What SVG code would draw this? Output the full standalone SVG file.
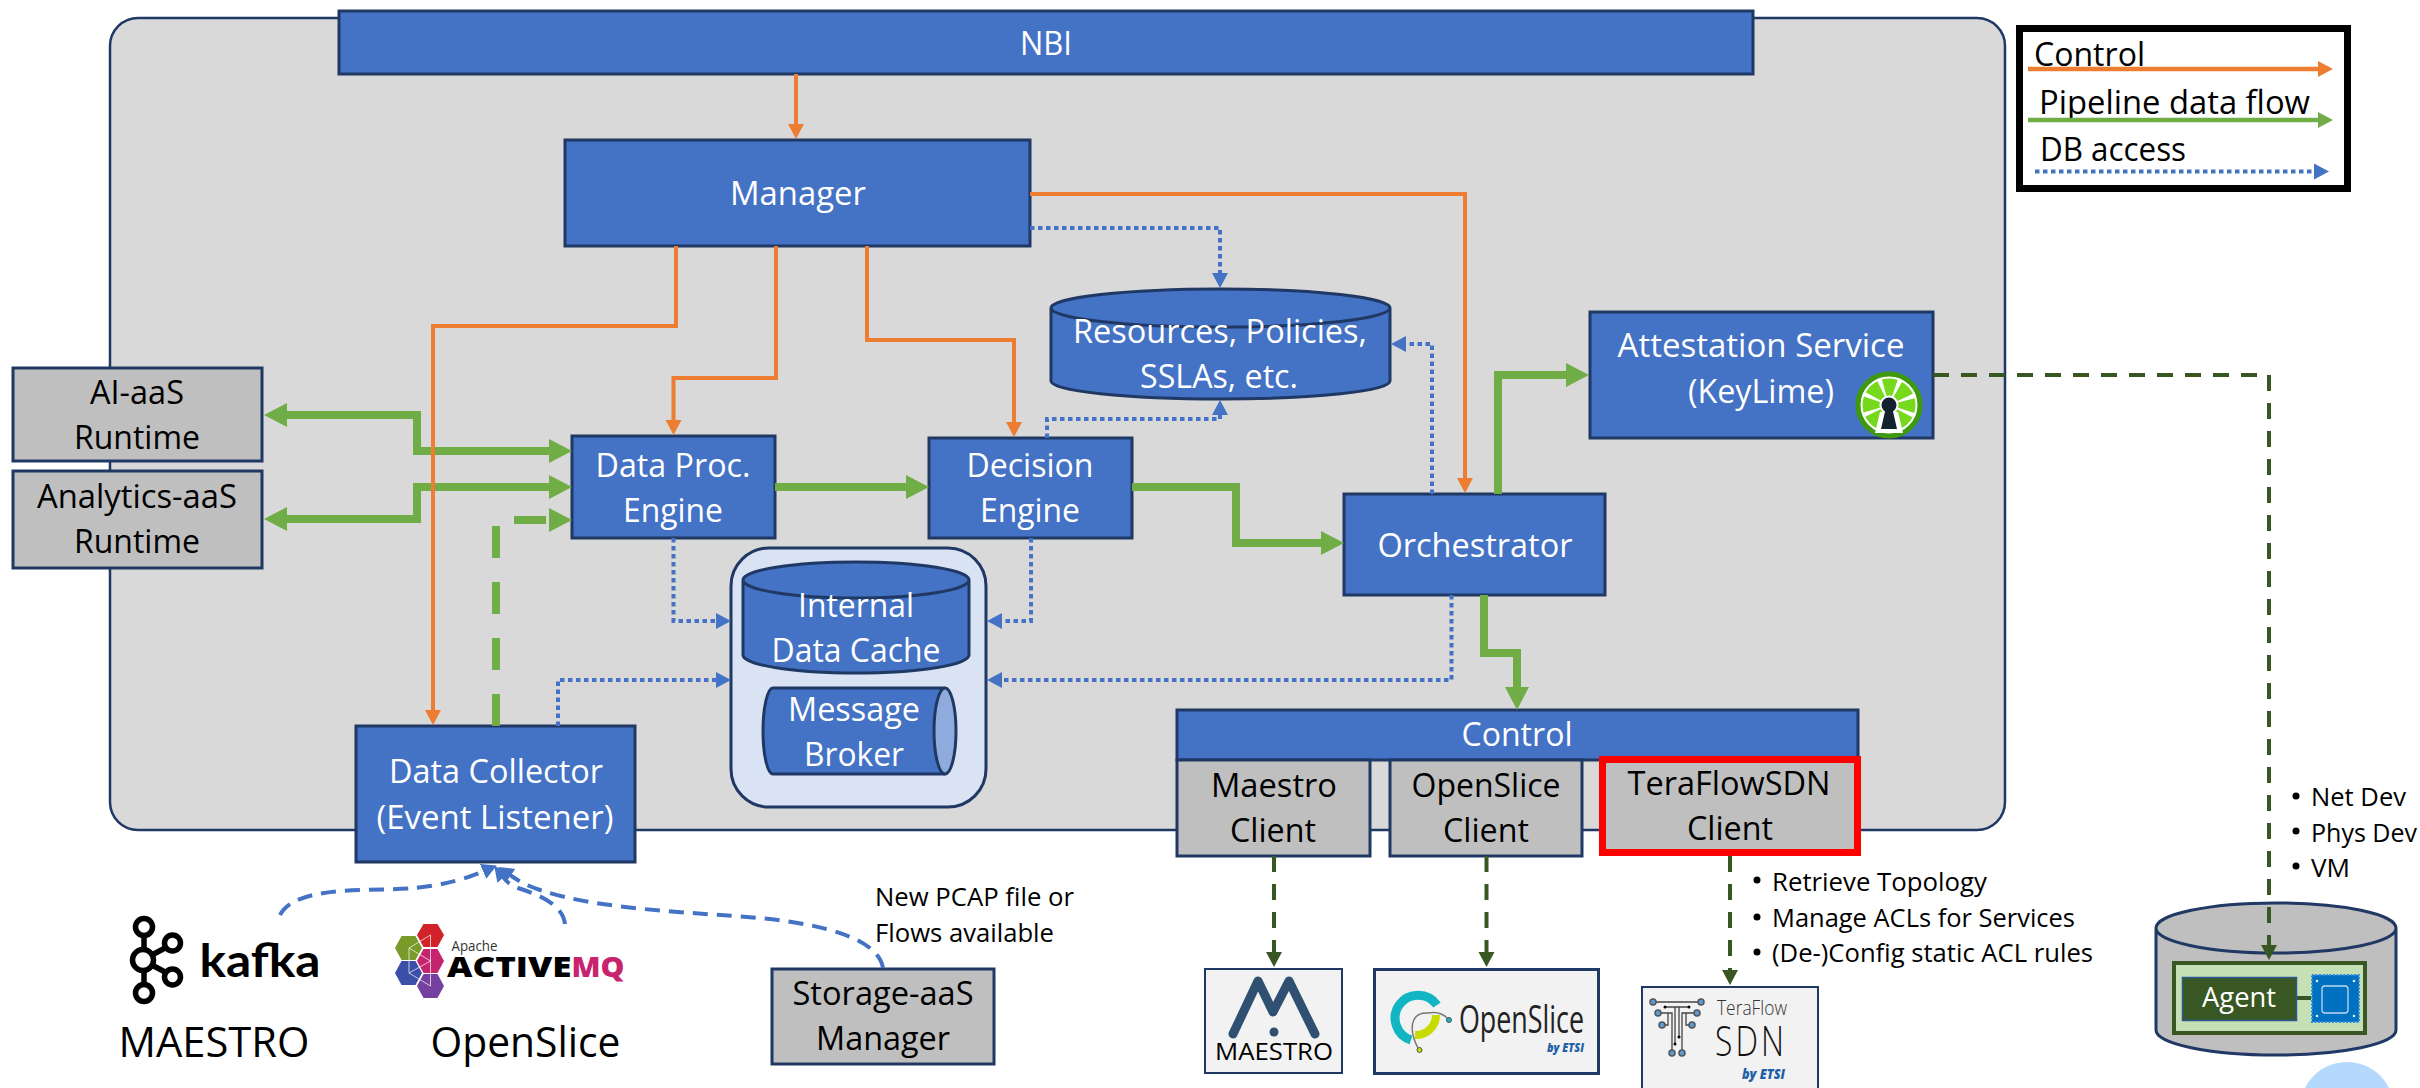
<svg xmlns="http://www.w3.org/2000/svg" width="2420" height="1088" viewBox="0 0 2420 1088">
<style>
text{font-family:"Open Sans","Noto Sans","DejaVu Sans",sans-serif}
.w{fill:#fff;font-size:33px;text-anchor:middle}
.k{fill:#000;font-size:33px;text-anchor:middle}
.b{fill:#000;font-size:26px}
.box{fill:#4472C4;stroke:#1F3864;stroke-width:3}
.gray{fill:#BFBFBF;stroke:#1F3864;stroke-width:3}
.ctl{fill:none;stroke:#ED7D31;stroke-width:4}
.pipe{fill:none;stroke:#70AD47;stroke-width:8}
.db{fill:none;stroke:#4472C4;stroke-width:4;stroke-dasharray:4.5 3.5}
.att{fill:none;stroke:#385723;stroke-width:4;stroke-dasharray:16 12}
.src{fill:none;stroke:#4472C4;stroke-width:4;stroke-dasharray:15 9}
.logo{fill:#F2F2F2;stroke:#1F3864;stroke-width:2}
.dotn{fill:#5B9BD5;stroke:#555;stroke-width:1.5}
</style>
<defs>
<marker id="mO" markerUnits="userSpaceOnUse" markerWidth="16" markerHeight="18" refX="1" refY="9" orient="auto-start-reverse"><path d="M0 1L15 9L0 17Z" fill="#ED7D31"/></marker>
<marker id="mG" markerUnits="userSpaceOnUse" markerWidth="24" markerHeight="26" refX="1" refY="13" orient="auto-start-reverse"><path d="M0 1L23 13L0 25Z" fill="#70AD47"/></marker>
<marker id="mGs" markerUnits="userSpaceOnUse" markerWidth="16" markerHeight="18" refX="1" refY="9" orient="auto-start-reverse"><path d="M0 1L15 9L0 17Z" fill="#70AD47"/></marker>
<marker id="mB" markerUnits="userSpaceOnUse" markerWidth="16" markerHeight="18" refX="1" refY="9" orient="auto-start-reverse"><path d="M0 1L15 9L0 17Z" fill="#4472C4"/></marker>
<marker id="mD" markerUnits="userSpaceOnUse" markerWidth="16" markerHeight="18" refX="1" refY="9" orient="auto-start-reverse"><path d="M0 1L15 9L0 17Z" fill="#385723"/></marker>
</defs>

<rect id="panel" x="110" y="18" width="1895" height="812" rx="28" fill="#D9D9D9" stroke="#1F3864" stroke-width="2.5"/>

<g id="nbi"><rect class="box" x="339" y="11" width="1414" height="63"/><text class="w" x="1046" y="55" textLength="52" lengthAdjust="spacingAndGlyphs">NBI</text></g>
<g id="manager"><rect class="box" x="565" y="140" width="465" height="106"/><text class="w" x="798" y="205" textLength="136" lengthAdjust="spacingAndGlyphs">Manager</text></g>
<g id="resources"><path class="box" d="M1051 308V381A169.500 18 0 0 0 1390 381V308A169.500 19 0 0 0 1051 308A169.500 19 0 0 0 1390 308"/><text class="w" x="1220" y="343" textLength="294" lengthAdjust="spacingAndGlyphs">Resources, Policies,</text><text class="w" x="1219" y="388" textLength="158" lengthAdjust="spacingAndGlyphs">SSLAs, etc.</text></g>
<g id="attestation"><rect class="box" x="1590" y="312" width="343" height="126"/><text class="w" x="1761" y="357" textLength="287" lengthAdjust="spacingAndGlyphs">Attestation Service</text><text class="w" x="1761" y="403" textLength="146" lengthAdjust="spacingAndGlyphs">(KeyLime)</text>
<circle cx="1889" cy="405" r="31" fill="#fff" stroke="#3E9A0C" stroke-width="5"/><circle cx="1889" cy="405" r="18" fill="none" stroke="#76D91C" stroke-width="17" stroke-dasharray="11 3.137" stroke-dashoffset="5.5"/><path d="M1880 412H1898L1903 433H1875Z" fill="#fff"/><circle cx="1889" cy="405" r="7.500" fill="#12232F"/><path d="M1886 407H1892L1897 429H1881Z" fill="#12232F"/></g>
<g id="ai-aas"><rect class="gray" x="13" y="368" width="249" height="93"/><text class="k" x="137" y="404" textLength="94" lengthAdjust="spacingAndGlyphs">AI-aaS</text><text class="k" x="137" y="449" textLength="126" lengthAdjust="spacingAndGlyphs">Runtime</text></g>
<g id="analytics-aas"><rect class="gray" x="13" y="471" width="249" height="97"/><text class="k" x="137" y="508" textLength="200" lengthAdjust="spacingAndGlyphs">Analytics-aaS</text><text class="k" x="137" y="553" textLength="126" lengthAdjust="spacingAndGlyphs">Runtime</text></g>
<g id="data-proc"><rect class="box" x="572" y="436" width="203" height="102"/><text class="w" x="673" y="477" textLength="155" lengthAdjust="spacingAndGlyphs">Data Proc.</text><text class="w" x="673" y="522" textLength="100" lengthAdjust="spacingAndGlyphs">Engine</text></g>
<g id="decision"><rect class="box" x="929" y="438" width="203" height="100"/><text class="w" x="1030" y="477" textLength="127" lengthAdjust="spacingAndGlyphs">Decision</text><text class="w" x="1030" y="522" textLength="100" lengthAdjust="spacingAndGlyphs">Engine</text></g>
<g id="orchestrator"><rect class="box" x="1344" y="494" width="261" height="101"/><text class="w" x="1475" y="557" textLength="195" lengthAdjust="spacingAndGlyphs">Orchestrator</text></g>
<g id="data-store"><rect x="731" y="548" width="255" height="259" rx="38" fill="#DAE3F3" stroke="#1F3864" stroke-width="3"/>
<path class="box" d="M743 580V655A113 18 0 0 0 969 655V580A113 18 0 0 0 743 580A113 18 0 0 0 969 580"/><text class="w" x="856" y="617" textLength="116" lengthAdjust="spacingAndGlyphs">Internal</text><text class="w" x="856" y="662" textLength="169" lengthAdjust="spacingAndGlyphs">Data Cache</text>
<path class="box" d="M945 688H773A10 43 0 0 0 773 774H945"/><ellipse cx="945" cy="731" rx="11" ry="43" fill="#8FAADC" stroke="#1F3864" stroke-width="3"/><text class="w" x="854" y="721" textLength="132" lengthAdjust="spacingAndGlyphs">Message</text><text class="w" x="854" y="766" textLength="100" lengthAdjust="spacingAndGlyphs">Broker</text></g>
<g id="data-collector"><rect class="box" x="356" y="726" width="279" height="136"/><text class="w" x="496" y="783" textLength="214" lengthAdjust="spacingAndGlyphs">Data Collector</text><text class="w" x="495" y="829" textLength="237" lengthAdjust="spacingAndGlyphs">(Event Listener)</text></g>
<g id="control"><rect class="box" x="1177" y="710" width="681" height="50"/><text class="w" x="1517" y="746" textLength="111" lengthAdjust="spacingAndGlyphs">Control</text></g>
<g id="maestro-client"><rect class="gray" x="1177" y="760" width="193" height="96"/><text class="k" x="1274" y="797" textLength="126" lengthAdjust="spacingAndGlyphs">Maestro</text><text class="k" x="1273" y="842" textLength="86" lengthAdjust="spacingAndGlyphs">Client</text></g>
<g id="openslice-client"><rect class="gray" x="1390" y="760" width="192" height="96"/><text class="k" x="1486" y="797" textLength="149" lengthAdjust="spacingAndGlyphs">OpenSlice</text><text class="k" x="1486" y="842" textLength="86" lengthAdjust="spacingAndGlyphs">Client</text></g>
<g id="teraflow-client"><rect x="1602.500" y="759.500" width="255" height="93" fill="#BFBFBF" stroke="#F00" stroke-width="7"/><text class="k" x="1729" y="795" textLength="203" lengthAdjust="spacingAndGlyphs">TeraFlowSDN</text><text class="k" x="1730" y="840" textLength="86" lengthAdjust="spacingAndGlyphs">Client</text></g>
<g id="storage-manager"><rect class="gray" x="772" y="969" width="222" height="95"/><text class="k" x="883" y="1005" textLength="181" lengthAdjust="spacingAndGlyphs">Storage-aaS</text><text class="k" x="883" y="1050" textLength="134" lengthAdjust="spacingAndGlyphs">Manager</text></g>

<g id="kafka"><g fill="none" stroke="#000" stroke-width="5.500"><circle cx="144" cy="927" r="8.500"/><circle cx="143" cy="960" r="10.500"/><circle cx="144" cy="993" r="8.500"/><circle cx="172.500" cy="943" r="8"/><circle cx="172.500" cy="977" r="8"/><path d="M144 936V950M144 970V984M152 955L165 948M152 965L165 972"/></g><text x="199.500" y="977" font-size="46" font-weight="700" style="font-family:Lato,'Open Sans',sans-serif" textLength="121" lengthAdjust="spacingAndGlyphs">kafka</text><text x="118.500" y="1057" font-size="42" textLength="191" lengthAdjust="spacingAndGlyphs">MAESTRO</text></g>
<g id="activemq"><path d="M417 935L423.500 924H437.500L444 935L437.500 947H423.500Z" fill="#D2232A"/><path d="M395 948L401.500 936H415.500L422 948L415.500 960H401.500Z" fill="#7A9A2A"/><path d="M417 961L423.500 949H437.500L444 961L437.500 973H423.500Z" fill="#C5246F"/><path d="M395 973L401.500 961H415.500L422 973L415.500 985H401.500Z" fill="#3C4FA8"/><path d="M417 986L423.500 974H437.500L444 986L437.500 998H423.500Z" fill="#7540A0"/><path d="M430.500 935V986L409 973V948L430.500 935M409 948L430.500 961L409 973" fill="none" stroke="#fff" stroke-opacity=".7" stroke-width="1"/><text x="451.500" y="951" font-size="15" fill="#333" textLength="46" lengthAdjust="spacingAndGlyphs">Apache</text><text x="447" y="977" font-size="29" font-weight="800" textLength="124.500" lengthAdjust="spacingAndGlyphs">ACTIVE</text><text x="571.500" y="977" font-size="29" font-weight="800" fill="#C8246E" textLength="53" lengthAdjust="spacingAndGlyphs">MQ</text><text x="430.500" y="1057" font-size="42" textLength="190" lengthAdjust="spacingAndGlyphs">OpenSlice</text></g>
<g id="pcap-note"><text class="b" x="875" y="906" textLength="199" lengthAdjust="spacingAndGlyphs">New PCAP file or</text><text class="b" x="875" y="942" textLength="179" lengthAdjust="spacingAndGlyphs">Flows available</text></g>

<g id="maestro-logo"><rect class="logo" x="1205" y="969" width="137" height="104"/><path d="M1233 1034L1258 981L1273 1012L1289 981L1315 1034" fill="none" stroke="#2F5070" stroke-width="9" stroke-linejoin="round" stroke-linecap="round"/><circle cx="1274" cy="1032" r="4.500" fill="#2F5070"/><text x="1215" y="1060" font-size="24" textLength="118" lengthAdjust="spacingAndGlyphs">MAESTRO</text></g>
<g id="openslice-logo"><rect class="logo" style="stroke-width:3" x="1374.500" y="969.500" width="224" height="104"/><path d="M1437 1005A23 23 0 1 0 1411 1040" fill="none" stroke="#12B5C4" stroke-width="9"/><path d="M1436 1015A20 20 0 0 1 1415 1035" fill="none" stroke="#C8DB00" stroke-width="8"/><path d="M1419 1050C1408 1030 1410 1012 1428 1013C1438 1011 1445 1015 1449 1020" fill="none" stroke="#777" stroke-width="1.500"/><circle cx="1449" cy="1020" r="2.500" fill="#12B5C4" stroke="#555"/><circle cx="1419.500" cy="1050" r="2.500" fill="#C8DB00" stroke="#555"/><text x="1459" y="1033" font-size="39" fill="#222" textLength="125" lengthAdjust="spacingAndGlyphs">OpenSlice</text><text x="1547" y="1052" font-size="13" font-weight="800" font-style="italic" fill="#1F5FA8" textLength="37" lengthAdjust="spacingAndGlyphs">by ETSI</text></g>
<g id="teraflow-logo"><rect class="logo" x="1642" y="987" width="176" height="110"/><path d="M1653 1002H1701M1665 1007H1689M1672 1053V1013H1658M1682 1053V1013H1697M1662 1025H1668V1013M1692 1025H1686V1013M1675 1007V1044M1679 1007V1037" fill="none" stroke="#444" stroke-width="1.300"/><g class="dotn"><circle cx="1653" cy="1002" r="3"/><circle cx="1701" cy="1002" r="3"/><circle cx="1658" cy="1013" r="3"/><circle cx="1697" cy="1013" r="3"/><circle cx="1662" cy="1025" r="3"/><circle cx="1692" cy="1025" r="3"/><circle cx="1672" cy="1053" r="3"/><circle cx="1682" cy="1053" r="3"/></g><circle cx="1665" cy="1007" r="1.500"/><circle cx="1689" cy="1007" r="1.500"/><circle cx="1675" cy="1044" r="1.500"/><circle cx="1679" cy="1037" r="1.500"/><text x="1717" y="1015" font-size="20" font-weight="300" fill="#333" textLength="70" lengthAdjust="spacingAndGlyphs">TeraFlow</text><text x="1715" y="1056" font-size="42" font-weight="300" fill="#111" letter-spacing="4" textLength="72" lengthAdjust="spacingAndGlyphs">SDN</text><text x="1742" y="1079" font-size="14" font-weight="800" font-style="italic" fill="#1F5FA8" textLength="43" lengthAdjust="spacingAndGlyphs">by ETSI</text></g>
<g id="acl-note"><circle cx="1757" cy="880" r="3.500"/><circle cx="1757" cy="917" r="3.500"/><circle cx="1757" cy="952" r="3.500"/><text class="b" x="1772" y="891" textLength="215" lengthAdjust="spacingAndGlyphs">Retrieve Topology</text><text class="b" x="1772" y="927" textLength="303" lengthAdjust="spacingAndGlyphs">Manage ACLs for Services</text><text class="b" x="1772" y="962" textLength="321" lengthAdjust="spacingAndGlyphs">(De-)Config static ACL rules</text></g>
<g id="dev-note"><circle cx="2296" cy="796" r="3.500"/><circle cx="2296" cy="831" r="3.500"/><circle cx="2296" cy="866" r="3.500"/><text class="b" x="2311" y="806" textLength="95" lengthAdjust="spacingAndGlyphs">Net Dev</text><text class="b" x="2311" y="842" textLength="106" lengthAdjust="spacingAndGlyphs">Phys Dev</text><text class="b" x="2311" y="877" textLength="39" lengthAdjust="spacingAndGlyphs">VM</text></g>
<g id="agent-host"><path class="gray" d="M2156 928V1030A120 25 0 0 0 2396 1030V928A120 25 0 0 0 2156 928A120 25 0 0 0 2396 928"/><rect x="2174" y="963" width="191" height="70" fill="#C5E0B4" stroke="#385723" stroke-width="4"/><path d="M2297 998H2311" stroke="#385723" stroke-width="4"/><rect x="2182.500" y="977.500" width="114" height="43" fill="#385723" stroke="#2F5597" stroke-width="1.500"/><text x="2239" y="1007" font-size="27" fill="#fff" text-anchor="middle" textLength="74" lengthAdjust="spacingAndGlyphs">Agent</text><rect x="2312" y="975" width="47" height="47" fill="#0070C0" stroke="#2E8BE0" stroke-width="2" stroke-dasharray="2 1.500"/><rect x="2322" y="986" width="26" height="27" rx="3" fill="none" stroke="#BDD7EE" stroke-width="1.300"/><g fill="#DDEBF7"><circle cx="2317" cy="981" r="1.300"/><circle cx="2354" cy="981" r="1.300"/><circle cx="2317" cy="1016" r="1.300"/><circle cx="2354" cy="1016" r="1.300"/></g></g>
<circle id="blue-blob" cx="2347" cy="1109" r="47" fill="#B4D9FC"/>

<g id="legend"><rect x="2019.500" y="28.500" width="328" height="160" fill="#fff" stroke="#000" stroke-width="7"/><text x="2034" y="66" font-size="33" textLength="111" lengthAdjust="spacingAndGlyphs">Control</text><text x="2039" y="114" font-size="33" textLength="271" lengthAdjust="spacingAndGlyphs">Pipeline data flow</text><text x="2040" y="161" font-size="33" textLength="146" lengthAdjust="spacingAndGlyphs">DB access</text><path class="ctl" style="stroke-width:4.500" d="M2028 69H2319" marker-end="url(#mO)"/><path class="pipe" style="stroke-width:4.500" d="M2028 120H2319" marker-end="url(#mGs)"/><path class="db" d="M2035 171.500H2315" marker-end="url(#mB)"/></g>

<g id="connectors">
<path class="pipe" d="M286 415H417V451H550" marker-start="url(#mG)" marker-end="url(#mG)"/>
<path class="pipe" d="M286 519H417V487H550" marker-start="url(#mG)" marker-end="url(#mG)"/>
<path class="pipe" style="stroke-dasharray:32 24" d="M496 726V520H550" marker-end="url(#mG)"/>
<path class="pipe" d="M775 487H907" marker-end="url(#mG)"/>
<path class="pipe" d="M1132 487H1236V543H1322" marker-end="url(#mG)"/>
<path class="pipe" d="M1498 494V375H1567" marker-end="url(#mG)"/>
<path class="pipe" d="M1484 595V653H1517V688" marker-end="url(#mG)"/>
<path class="ctl" d="M796 74V125" marker-end="url(#mO)"/>
<path class="ctl" d="M676 246V326H433V711" marker-end="url(#mO)"/>
<path class="ctl" d="M776 246V378H673.500V421" marker-end="url(#mO)"/>
<path class="ctl" d="M867 246V340H1014V423" marker-end="url(#mO)"/>
<path class="ctl" d="M1030 194H1465V479" marker-end="url(#mO)"/>
<path class="db" d="M1030 228H1220V274" marker-end="url(#mB)"/>
<path class="db" d="M1047 438V419H1220V414" marker-end="url(#mB)"/>
<path class="db" d="M1432 494V344H1405" marker-end="url(#mB)"/>
<path class="db" d="M673.500 538V621H717" marker-end="url(#mB)"/>
<path class="db" d="M1031 538V621H1001" marker-end="url(#mB)"/>
<path class="db" d="M558 726V680H717" marker-end="url(#mB)"/>
<path class="db" d="M1451.500 595V680H1001" marker-end="url(#mB)"/>
<path class="att" d="M1933 375H2269V946" marker-end="url(#mD)"/>
<path class="att" d="M1274 856V953" marker-end="url(#mD)"/>
<path class="att" d="M1486.500 856V953" marker-end="url(#mD)"/>
<path class="att" d="M1730 856V971" marker-end="url(#mD)"/>
<path class="src" d="M280 915C296 884 372 892 415 888C445 885 468 878 484 871" marker-end="url(#mB)"/>
<path class="src" d="M565 924C563 905 540 895 518 888C510 885 507 882 503 877" marker-end="url(#mB)"/>
<path class="src" d="M883 968C878 940 830 925 760 918C690 912 600 910 540 890C528 886 520 882 510 875" marker-end="url(#mB)"/>
</g>
</svg>
